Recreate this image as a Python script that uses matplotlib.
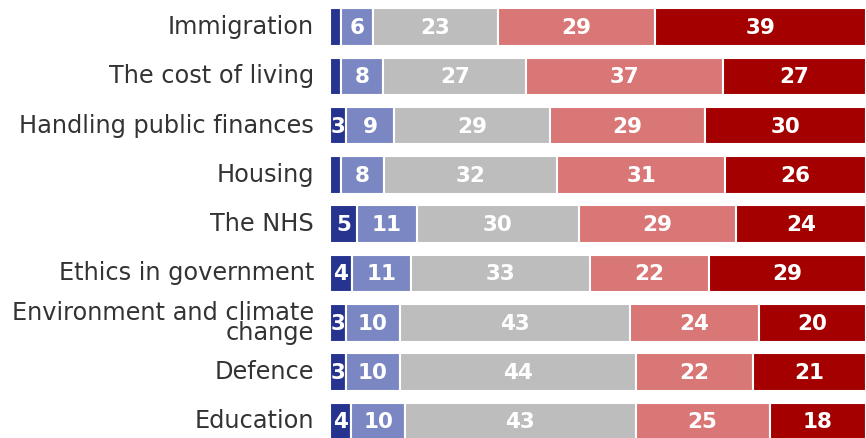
import numpy as np
import matplotlib
matplotlib.use("Agg")
from matplotlib import pyplot as plt

categories = ["Immigration", "The cost of living", "Handling public finances", "Housing",
              "The NHS", "Ethics in government", "Environment and climate\nchange",
              "Defence", "Education"]

very_good = [2, 2, 3, 2, 5, 4, 3, 3, 4]
fairly_good = [6, 8, 9, 8, 11, 11, 10, 10, 10]
neither = [23, 27, 29, 32, 30, 33, 43, 44, 43]
fairly_bad = [29, 37, 29, 31, 29, 22, 24, 22, 25]
very_bad = [39, 27, 30, 26, 24, 29, 20, 21, 18]

colors = ["#26348f", "#7b87c2", "#bdbdbd", "#d97676", "#a50000"]

series = np.array([very_good, fairly_good, neither, fairly_bad, very_bad], dtype=float)
# each row fills the full width
shares = series / series.sum(axis=0) * 100

fig = plt.figure(figsize=(8.66, 4.38), dpi=100)
ax = fig.add_axes([330 / 866, 0, 1 - 330 / 866, 1])

y = np.arange(len(categories))
left = np.zeros(len(categories))
for k in range(len(series)):
    ax.barh(y, shares[k], left=left, height=0.76, color=colors[k],
            edgecolor="white", linewidth=1.5)
    for i in range(len(categories)):
        v = series[k][i]
        if v >= 3:
            ax.text(left[i] + shares[k][i] / 2, y[i] + 0.02, "%d" % v, ha="center", va="center",
                    color="white", fontsize=15.5, fontweight="bold", family="DejaVu Sans")
    left += shares[k]

ax.set_xlim(0, 100)
ax.set_ylim(8.337, -0.548)
ax.axis("off")

for i, c in enumerate(categories):
    ax.text(-3.0, y[i], c, ha="right", va="center", fontsize=17.3, color="#333333",
            family="DejaVu Sans", linespacing=0.8)

fig.savefig("out.png", dpi=100)
